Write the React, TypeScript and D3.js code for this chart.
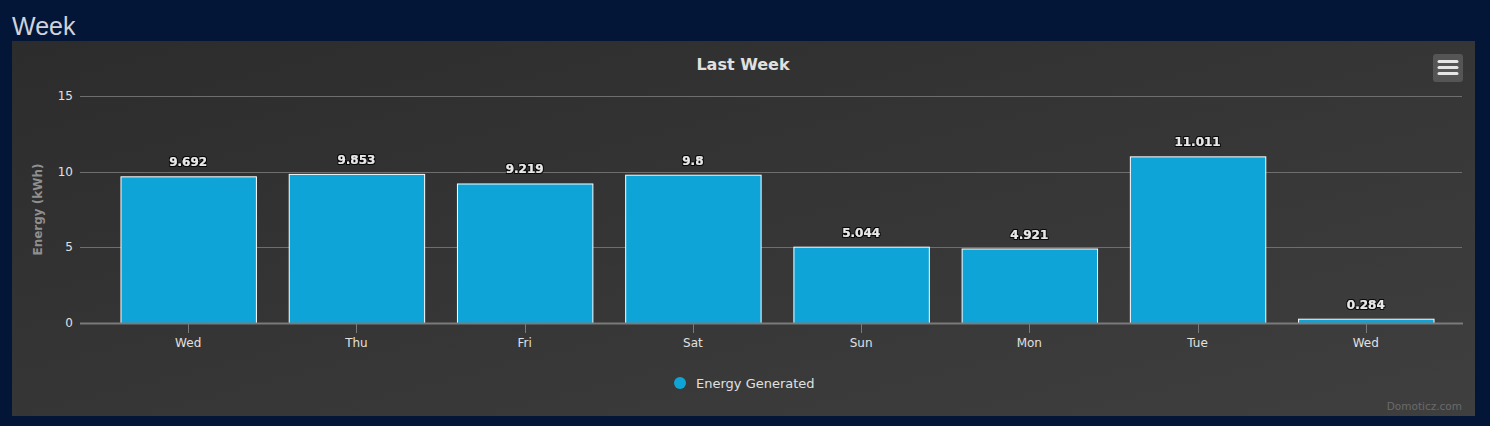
import React from "react";
import * as d3 from "d3";

const categories = ["Wed", "Thu", "Fri", "Sat", "Sun", "Mon", "Tue", "Wed"];
const energy = [9.692, 9.853, 9.219, 9.8, 5.044, 4.921, 11.011, 0.284];
const yTicks = [0, 5, 10, 15];

const W = 1490;
const H = 426;
const FONT = "'DejaVu Sans', 'Lucida Grande', sans-serif";

export default function App() {
  const plotL = 80;
  const plotR = 1462;
  const plotT = 96;
  const plotB = 323;
  const x = d3
    .scaleBand<number>()
    .domain(d3.range(categories.length))
    .range([104, 1450])
    .paddingInner(0.195)
    .paddingOuter(0.098);
  const y = d3.scaleLinear().domain([0, 15]).range([plotB, plotT]);
  const bw = x.bandwidth();

  return (
    <svg
      width={W}
      height={H}
      style={{ position: "absolute", left: 0, top: 0 }}
      fontFamily={FONT}
    >
      <defs>
        <linearGradient id="panelGrad" x1="0" y1="0" x2="1" y2="1">
          <stop offset="0" stopColor="#2c2c2c" />
          <stop offset="1" stopColor="#3f3f3f" />
        </linearGradient>
        <filter id="outline" x="-20%" y="-50%" width="140%" height="200%">
          <feMorphology in="SourceAlpha" operator="dilate" radius="0.8" result="d" />
          <feFlood floodColor="#000" floodOpacity="0.85" result="f" />
          <feComposite in="f" in2="d" operator="in" result="o" />
          <feMerge>
            <feMergeNode in="o" />
            <feMergeNode in="SourceGraphic" />
          </feMerge>
        </filter>
      </defs>
      <rect x={0} y={0} width={W} height={H} fill="#031638" />
      <text x={12} y={35} fontFamily="'Liberation Sans', Arial, sans-serif" fontSize={25} fill="#cfd3dc">
        Week
      </text>
      <rect x={12} y={41} width={1463} height={375} fill="url(#panelGrad)" />

      {/* title */}
      <text x={743} y={70} textAnchor="middle" fontSize={16} fontWeight="bold" fill="#e0e0e0">
        Last Week
      </text>

      {/* menu button */}
      <rect x={1433} y={54} width={30} height={28} rx={3} fill="#555555" />
      {[61, 67, 73].map((yy) => (
        <line key={yy} x1={1439} x2={1457} y1={yy + 0.5} y2={yy + 0.5} stroke="#e6e6e6" strokeWidth={3} strokeLinecap="round" />
      ))}

      {/* grid */}
      {yTicks.map((t) => (
        <g key={t}>
          {t !== 0 && (
            <line x1={plotL} x2={plotR} y1={Math.round(y(t)) + 0.5} y2={Math.round(y(t)) + 0.5} stroke="#6e6e6e" strokeWidth={1} />
          )}
          <text x={73} y={y(t) + 4} textAnchor="end" fontSize={12} fill="#e0e0e0">
            {t}
          </text>
        </g>
      ))}

      {/* axis title */}
      <text
        transform={`translate(42, ${(plotT + plotB) / 2}) rotate(-90)`}
        textAnchor="middle"
        fontSize={12}
        fontWeight="bold"
        fill="#8f8f8f"
      >
        Energy (kWh)
      </text>

      {/* bars */}
      {energy.map((v, i) => (
        <rect
          key={i}
          x={x(i)! + 0.5}
          y={y(v) + 0.5}
          width={bw}
          height={plotB - y(v)}
          fill="#0ea4d8"
          stroke="#ffffff"
          strokeWidth={1}
        />
      ))}

      {/* x axis line */}
      <line x1={plotL} x2={plotR + 1} y1={plotB + 0.5} y2={plotB + 0.5} stroke="#7a7a7a" strokeWidth={2} />

      {/* x ticks and labels */}
      {categories.map((c, i) => {
        const cx = x(i)! + bw / 2;
        return (
          <g key={i}>
            <line x1={Math.round(cx) + 0.5} x2={Math.round(cx) + 0.5} y1={plotB} y2={plotB + 10} stroke="#7a7a7a" strokeWidth={1} />
            <text x={cx} y={347} textAnchor="middle" fontSize={12} fill="#e0e0e0">
              {c}
            </text>
          </g>
        );
      })}

      {/* data labels */}
      {energy.map((v, i) => (
        <text
          key={i}
          x={x(i)! + bw / 2}
          y={y(v) - 10}
          textAnchor="middle"
          fontSize={12}
          fontWeight="bold"
          fill="#e8e8e8"
          filter="url(#outline)"
        >
          {String(v)}
        </text>
      ))}

      {/* legend */}
      <circle cx={680} cy={383} r={6} fill="#0ea4d8" />
      <text x={696} y={388} fontSize={13} fill="#e0e0e0">
        Energy Generated
      </text>

      {/* credits */}
      <text x={1462} y={410} textAnchor="end" fontSize={10.5} fill="#6a6a6a">
        Domoticz.com
      </text>
    </svg>
  );
}
